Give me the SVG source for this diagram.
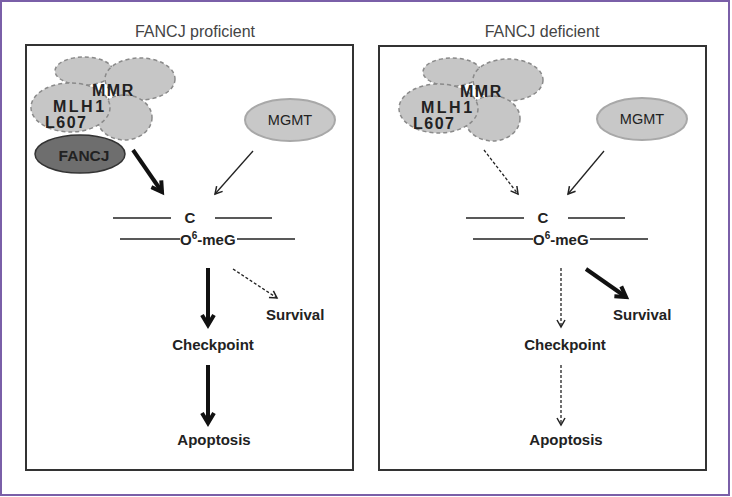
<svg xmlns="http://www.w3.org/2000/svg" width="732" height="497" viewBox="0 0 732 497">
<style>
text{font-family:"Liberation Sans",Arial,sans-serif;fill:#222}
.title{font-size:16px;fill:#444;text-anchor:middle}
.lbl{font-size:15px;font-weight:bold}
.mid{text-anchor:middle}
.cloud{font-size:16px;font-weight:bold;letter-spacing:1.5px}
.mmr{fill:#c6c6c6;stroke:#8a8a8a;stroke-width:1.5;stroke-dasharray:4 3}
.mgmt{fill:#c8c8c8;stroke:#a8a8a8;stroke-width:2}
.fancj{fill:#6e6e6e;stroke:#333;stroke-width:1.5}
.panel{fill:#fff;stroke:#333;stroke-width:2}
.dna{stroke:#222;stroke-width:1.3}
.thick{stroke:#111;stroke-width:4;fill:none;marker-end:url(#hk)}
.thin{stroke:#222;stroke-width:1.3;fill:none;marker-end:url(#hn)}
.dash{stroke:#222;stroke-width:1.3;fill:none;stroke-dasharray:3 2;marker-end:url(#hn)}
</style>
<defs>
<marker id="hk" markerUnits="userSpaceOnUse" viewBox="0 0 20 16" markerWidth="20" markerHeight="16" refX="12" refY="8" orient="auto">
<path d="M2,2 L12,8 L2,14" fill="none" stroke="#111" stroke-width="4"/>
</marker>
<marker id="hn" markerUnits="userSpaceOnUse" viewBox="0 0 12 12" markerWidth="12" markerHeight="12" refX="9" refY="6" orient="auto">
<path d="M2,2 L9,6 L2,10" fill="none" stroke="#222" stroke-width="1.5"/>
</marker>
</defs>
<rect x="0" y="0" width="732" height="497" fill="#fff"/>
<rect x="1" y="1" width="728" height="494" fill="none" stroke="#7a5fa8" stroke-width="2"/>

<text class="title" x="195" y="37">FANCJ proficient</text>
<text class="title" x="542" y="37">FANCJ deficient</text>
<rect class="panel" x="26" y="45" width="327" height="425"/>
<rect class="panel" x="379" y="46" width="327" height="424"/>

<!-- left panel nodes -->
<g id="mmr-left">
<ellipse class="mmr" cx="84" cy="71" rx="29" ry="14"/>
<ellipse class="mmr" cx="140" cy="79" rx="35" ry="21"/>
<ellipse class="mmr" cx="124.5" cy="117.5" rx="27.5" ry="22.5"/>
<ellipse class="mmr" cx="70.5" cy="107.5" rx="39.5" ry="24.5"/>
<text class="cloud" x="92" y="96">MMR</text>
<text class="cloud" x="53" y="112" style="letter-spacing:2.5px">MLH1</text>
<text class="cloud" x="45" y="128">L607</text>
</g>
<g id="fancj-left">
<ellipse class="fancj" cx="80" cy="154" rx="45" ry="19"/>
<text class="lbl mid" x="84" y="161" style="font-size:15.5px">FANCJ</text>
</g>
<g id="mgmt-left">
<ellipse class="mgmt" cx="290" cy="120" rx="45" ry="21"/>
<text class="mid" x="290" y="125" style="font-size:14.5px">MGMT</text>
</g>
<g id="dna-left">
<line class="dna" x1="113" y1="218" x2="171" y2="218"/>
<line class="dna" x1="215" y1="218" x2="272" y2="218"/>
<line class="dna" x1="120" y1="239" x2="180" y2="239"/>
<line class="dna" x1="237" y1="239" x2="295" y2="239"/>
<text class="lbl mid" x="190" y="223">C</text>
<text class="lbl" x="180" y="245">O<tspan dy="-6" font-size="10">6</tspan><tspan dy="6">-meG</tspan></text>
</g>
<g id="survival-left"><text class="lbl" x="266" y="320">Survival</text></g>
<g id="checkpoint-left"><text class="lbl mid" x="213" y="350">Checkpoint</text></g>
<g id="apoptosis-left"><text class="lbl mid" x="214" y="445">Apoptosis</text></g>

<!-- right panel nodes -->
<g id="mmr-right" transform="translate(368,1)">
<ellipse class="mmr" cx="84" cy="71" rx="29" ry="14"/>
<ellipse class="mmr" cx="140" cy="79" rx="35" ry="21"/>
<ellipse class="mmr" cx="124.5" cy="117.5" rx="27.5" ry="22.5"/>
<ellipse class="mmr" cx="70.5" cy="107.5" rx="39.5" ry="24.5"/>
<text class="cloud" x="92" y="96">MMR</text>
<text class="cloud" x="53" y="112" style="letter-spacing:2.5px">MLH1</text>
<text class="cloud" x="45" y="128">L607</text>
</g>
<g id="mgmt-right">
<ellipse class="mgmt" cx="642" cy="119" rx="45" ry="21"/>
<text class="mid" x="642" y="124" style="font-size:14.5px">MGMT</text>
</g>
<g id="dna-right">
<line class="dna" x1="466" y1="218" x2="524" y2="218"/>
<line class="dna" x1="568" y1="218" x2="625" y2="218"/>
<line class="dna" x1="473" y1="239" x2="533" y2="239"/>
<line class="dna" x1="590" y1="239" x2="648" y2="239"/>
<text class="lbl mid" x="543" y="223">C</text>
<text class="lbl" x="533" y="245">O<tspan dy="-6" font-size="10">6</tspan><tspan dy="6">-meG</tspan></text>
</g>
<g id="survival-right"><text class="lbl" x="613" y="320">Survival</text></g>
<g id="checkpoint-right"><text class="lbl mid" x="565" y="350">Checkpoint</text></g>
<g id="apoptosis-right"><text class="lbl mid" x="566" y="445">Apoptosis</text></g>

<g id="connectors">
<line class="thick" x1="133" y1="150" x2="162" y2="192"/>
<line class="thin" x1="253" y1="151" x2="215" y2="194"/>
<line class="thick" x1="208" y1="268" x2="208" y2="325"/>
<line class="dash" x1="233" y1="269" x2="277" y2="298"/>
<line class="thick" x1="208" y1="365" x2="208" y2="423"/>

<line class="dash" x1="484" y1="150" x2="518" y2="194"/>
<line class="thin" x1="604" y1="151" x2="568" y2="194"/>
<line class="dash" x1="561" y1="268" x2="561" y2="327"/>
<line class="thick" x1="586" y1="269" x2="626" y2="297"/>
<line class="dash" x1="561" y1="365" x2="561" y2="425"/>
</g>
</svg>
